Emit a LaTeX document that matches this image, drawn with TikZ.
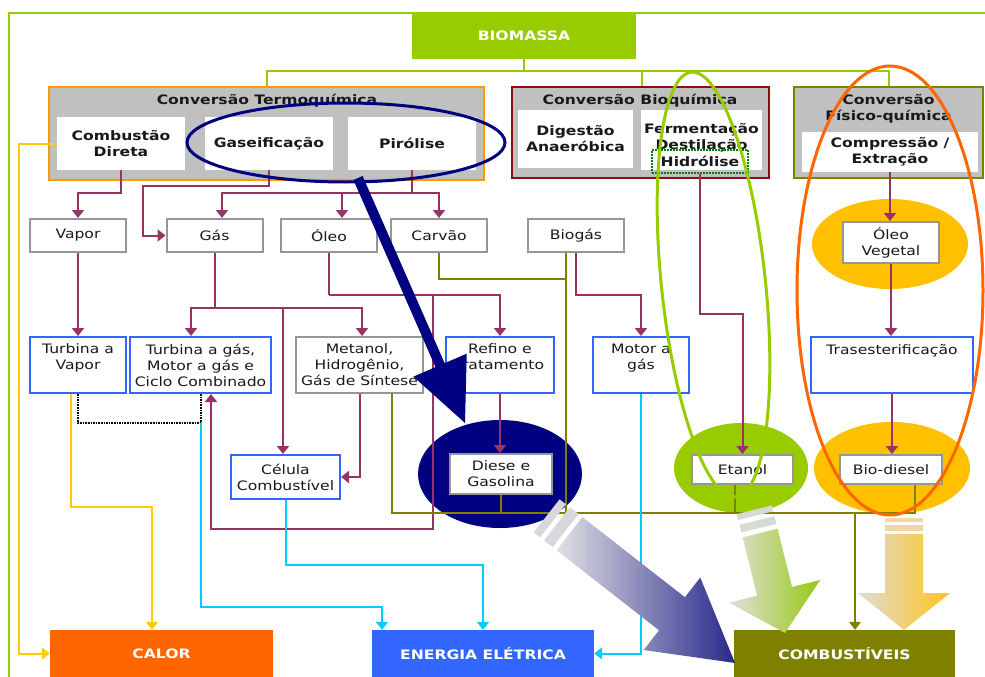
\documentclass[tikz,border=0pt]{standalone}
\usepackage{fontspec}
\setmainfont{DejaVu Sans}[FakeStretch=1.2]
\usepackage{tikz}
\usetikzlibrary{arrows.meta,calc,positioning}
\definecolor{verdebio}{RGB}{153,204,0}
\definecolor{laranja}{RGB}{255,153,0}
\definecolor{laranjaforte}{RGB}{255,102,0}
\definecolor{vinho}{RGB}{140,15,15}
\definecolor{oliva}{RGB}{128,128,0}
\definecolor{roxo}{RGB}{153,51,102}
\definecolor{cinzaborda}{RGB}{150,150,150}
\definecolor{cinzafundo}{RGB}{192,192,192}
\definecolor{azulborda}{RGB}{51,102,255}
\definecolor{azulforte}{RGB}{51,102,255}
\definecolor{amarelo}{RGB}{255,204,0}
\definecolor{ouro}{RGB}{255,192,0}
\definecolor{ciano}{RGB}{0,204,255}
\definecolor{marinho}{RGB}{0,0,128}
\definecolor{verdeescuro}{RGB}{0,128,0}
\definecolor{texto}{RGB}{25,25,25}
\newcommand{\fonte}{\fontsize{13}{16}\selectfont}
% seta larga: ponta, angulo para tras, comprimento e meia largura da ponta, meia largura da haste, fim da haste
\newcommand{\setabloco}[7]{%
  \shade[#7] (#1) -- ($(#1)+(#2:#3)+(#2+90:#4)$) -- ($(#1)+(#2:#3)+(#2+90:#5)$)
    -- ($(#1)+(#2:#6)+(#2+90:#5)$) -- ($(#1)+(#2:#6)+(#2-90:#5)$)
    -- ($(#1)+(#2:#3)+(#2-90:#5)$) -- ($(#1)+(#2:#3)+(#2-90:#4)$) -- cycle;}
\newcommand{\faixabloco}[6]{%
  \fill[#6] ($(#1)+(#2:#3)+(#2+90:#5)$) -- ($(#1)+(#2:#4)+(#2+90:#5)$)
    -- ($(#1)+(#2:#4)+(#2-90:#5)$) -- ($(#1)+(#2:#3)+(#2-90:#5)$) -- cycle;}

\begin{document}
\begin{tikzpicture}[x=1pt,y=-1pt,>={Triangle[length=8pt,width=12pt]},
  tam/.style 2 args={minimum width=#1pt,minimum height=#2pt},
  grupo/.style={fill=cinzafundo,line width=2.5pt,inner sep=0pt},
  titulo/.style={font=\fonte\bfseries,text=texto,align=center,inner sep=0pt},
  cabec/.style={fill=white,font=\fonte\bfseries,text=texto,align=center,inner sep=0pt},
  caixa/.style={draw=cinzaborda,fill=white,line width=2pt,font=\fonte,text=texto,align=center,inner sep=0pt},
  caixazul/.style={caixa,draw=azulborda},
  saida/.style={font=\fonte\bfseries,text=white,inner sep=0pt},
  linharoxa/.style={draw=roxo,line width=2pt},
  setaroxa/.style={linharoxa,->},
  oliv/.style={draw=oliva,line width=1.6pt},
  setaamarela/.style={draw=amarelo,line width=2pt,->},
  setaciano/.style={draw=ciano,line width=2pt,->}]
\useasboundingbox (0,0) rectangle (985,677);
% moldura e manchas de fundo
\draw[verdebio,line width=2pt] (9,677) |- (985,13);
\fill[marinho] (500,474) ellipse [x radius=82,y radius=54];
\fill[verdebio] (741,468) ellipse [x radius=67,y radius=45];
\fill[ouro] (892,468) ellipse [x radius=78,y radius=46];
\fill[ouro] (890,244) ellipse [x radius=78,y radius=45];

\node[saida,fill=verdebio,tam={224}{46}] (biomassa) at (524,36) {BIOMASSA};

\node[grupo,draw=laranja,tam={435}{93}] (termo) at (266.5,133.5) {};
\node[titulo] at (267,101) {Conversão Termoquímica};
\node[cabec,tam={128}{53}] (comb) at (121,143.5) {Combustão\\Direta};
\node[cabec,tam={128}{53}] (gase) at (269,143.5) {Gaseificação};
\node[cabec,tam={128}{53}] (piro) at (412,143.5) {Pirólise};

\node[grupo,draw=vinho,tam={257}{91}] (bioq) at (640.5,132.5) {};
\node[titulo] at (640,101) {Conversão Bioquímica};
\node[cabec,tam={115}{58}] (dige) at (575.5,139) {Digestão\\Anaeróbica};
\node[cabec,tam={121}{60}] (ferm) at (701.5,140) {};
\node[titulo] at (701.5,137.5) {Fermentação\\Destilação};
\node[titulo,draw=verdeescuro,densely dotted,line width=2pt,tam={96}{23}] (hidrol) at (700,161.5) {Hidrólise};

\node[grupo,draw=oliva,tam={189}{91}] (fisico) at (888.5,132.5) {};
\node[titulo] at (888.5,109) {Conversão\\Físico-química};
\node[cabec,tam={176}{40}] (compr) at (890,152) {Compressão /\\Extração};

\node[caixa,tam={96}{33}] (vapor) at (78,235.5) {Vapor};
\node[caixa,tam={96}{33}] (gas) at (214.5,235.5) {Gás};
\node[caixa,tam={96}{33}] (oleo) at (329,235.5) {Óleo};
\node[caixa,tam={96}{33}] (carvao) at (439,235.5) {Carvão};
\node[caixa,tam={96}{33}] (biogas) at (576,235.5) {Biogás};
\node[caixa,tam={96}{41}] (olveg) at (891,242.5) {Óleo\\Vegetal};

\node[caixazul,tam={96}{56}] (turbvapor) at (78,365) {Turbina a\\Vapor\\\mbox{}};
\node[caixazul,tam={141}{56}] (turbgas) at (200.5,365) {Turbina a gás,\\Motor a gás e\\Ciclo Combinado};
\node[caixa,tam={127}{56}] (metanol) at (359.5,365) {Metanol,\\Hidrogênio,\\Gás de Síntese};
\node[caixazul,tam={108}{56}] (refino) at (500,365) {Refino e\\tratamento\\\mbox{}};
\node[caixazul,tam={96}{56}] (motor) at (641,365) {Motor a\\gás\\\mbox{}};
\node[caixazul,tam={162}{56}] (trans) at (892,365) {Trasesterificação\\\mbox{}\\\mbox{}};

\node[caixazul,tam={109}{44}] (celula) at (285.5,477) {Célula\\Combustível};
\node[caixa,tam={102}{40}] (diese) at (501,474) {Diese e\\Gasolina};
\node[caixa,tam={101}{29}] (etanol) at (742.5,469.5) {Etanol};
\node[caixa,tam={102}{29}] (biodiesel) at (891,469.5) {Bio-diesel};

\node[saida,fill=laranjaforte,tam={223}{47}] (calor) at (161.5,653.5) {CALOR};
\node[saida,fill=azulforte,tam={222}{47}] (energia) at (483,653.5) {ENERGIA ELÉTRICA};
\node[saida,fill=oliva,tam={221}{47}] (combust) at (844.5,653.5) {COMBUSTÍVEIS};

% ramos da biomassa
\draw[verdebio,line width=2pt] (biomassa.south) -- ++(0,13);
\draw[verdebio,line width=2pt] (termo.north) -- ++(0,-15) -| (fisico.north);
\draw[verdebio,line width=2pt] ([xshift=1.5pt]bioq.north) -- ++(0,-15);

% rotas de conversao
\draw[setaroxa] (comb.south) -- ++(0,23) -| (vapor.north);
\draw[setaroxa] (gase.south) -- ++(0,16) -| ($(gas.west)+(-23,0)$) -- (gas.west);
\draw[linharoxa] (piro.south) -- ++(0,23) coordinate (piro1);
\draw[setaroxa] (piro1) -| ([xshift=7.5pt]gas.north);
\draw[setaroxa] (piro1) -| ([xshift=13pt]oleo.north);
\draw[setaroxa] (piro1) -| (carvao.north);
\draw[setaroxa] (vapor) -- (turbvapor);
\draw[linharoxa] (gas.south) -- ++(0,55) coordinate (gas1);
\draw[setaroxa] (gas1) -| ([xshift=-9.5pt]turbgas.north);
\draw[setaroxa] (gas1) -| ([xshift=2.5pt]metanol.north);
\draw[setaroxa] (gas1) -| ([xshift=-2.5pt]celula.north);
\draw[linharoxa] (oleo.south) -- ++(0,42) coordinate (oleo1);
\draw[setaroxa] (oleo1) -| (refino.north);
\draw[setaroxa] (oleo1) -| ($(oleo1)+(104,234)$) -| ([xshift=10.5pt]turbgas.south);
\draw[setaroxa] (metanol.south) |- (celula.east);
\draw[setaroxa] (refino.south) -- (refino.south |- diese.north);
\draw[setaroxa] (biogas.south) -- ++(0,42) -| (motor.north);
\draw[setaroxa] (hidrol.south) -- ++(0,140) -| (etanol.north);
\draw[setaroxa] (compr.south) -- (compr.south |- olveg.north);
\draw[setaroxa] (olveg.south) -- (olveg.south |- trans.north);
\draw[setaroxa] (trans.south) -- (trans.south |- biodiesel.north);

% combustiveis
\coordinate (col1) at (392,513);
\coordinate (col2) at (915,513);
\coordinate (col3) at (855,513);
\draw[oliv] (carvao.south) -- ++(0,26) -| ([xshift=-10pt]biogas.south);
\draw[oliv] ([xshift=-10pt]biogas.south) -- ++(0,261);
\draw[oliv] ([xshift=32.5pt]metanol.south) -- (col1) -- (col2) -- ([xshift=24pt]biodiesel.south);
\draw[oliv] ([xshift=-7.5pt]etanol.south) -- ++(0,29);
\draw[oliv] (diese.south) -- ++(0,19);
\draw[oliv,->] (col3) -- (col3 |- combust.north);

% calor e energia eletrica
\draw[setaamarela] (comb.west) -- ++(-38,0) |- (calor.west);
\draw[setaamarela] ([xshift=-7pt]turbvapor.south) -- ++(0,113) -| ([xshift=-9.5pt]calor.north);
\draw[black,line width=1.6pt,densely dotted] (turbvapor.south) -- ++(0,29) -| ([xshift=0.5pt]turbgas.south);
\draw[setaciano] ($(turbgas.south)+(0.5,29)$) -- ++(0,184) -| ([xshift=-101pt]energia.north);
\draw[setaciano] (celula.south) -- ++(0,65) -| (energia.north);
\draw[setaciano] (motor.south) |- (energia.east);

% destaques
\draw[marinho,line width=3pt] (346,142.5) ellipse [x radius=159,y radius=39.5];
\draw[verdebio,line width=3pt,rotate around={6:(713.5,284.5)}] (713.5,284.5) ellipse [x radius=52,y radius=213.5];
\draw[laranjaforte,line width=3pt] (890,290.5) ellipse [x radius=93,y radius=224.5];
\coordinate (navyA) at (358,178);
\coordinate (navyB) at (465,423);
\draw[marinho,line width=10pt] (navyA) -- ($(navyB)+(246.7:60)$);
\fill[marinho] (navyB) -- ($(navyB)+(246.7:63)+(156.7:29)$) -- ($(navyB)+(246.7:63)+(336.7:29)$) -- cycle;

\coordinate (pontaD) at (735,663);
\setabloco{pontaD}{218}{80}{46}{21}{210}{left color={rgb,255:red,225;green,225;blue,228},right color={rgb,255:red,40;green,40;blue,140}}
\faixabloco{pontaD}{218}{215}{226}{21}{fill={rgb,255:red,215;green,215;blue,220}}
\faixabloco{pontaD}{218}{231}{239}{21}{fill={rgb,255:red,215;green,215;blue,220}}
\coordinate (pontaE) at (785,633);
\setabloco{pontaE}{256}{43}{47}{18}{103}{left color={rgb,255:red,225;green,225;blue,220},right color={rgb,255:red,150;green,200;blue,20}}
\faixabloco{pontaE}{256}{108}{116}{18}{fill={rgb,255:red,215;green,220;blue,210}}
\faixabloco{pontaE}{256}{121}{127}{18}{fill={rgb,255:red,215;green,220;blue,210}}
\coordinate (pontaB) at (904,630);
\setabloco{pontaB}{270}{37}{46}{19}{96}{left color={rgb,255:red,225;green,220;blue,210},right color={rgb,255:red,255;green,195;blue,30}}
\faixabloco{pontaB}{270}{99}{105}{19}{fill={rgb,255:red,240;green,215;blue,165}}
\faixabloco{pontaB}{270}{108}{112}{19}{fill={rgb,255:red,240;green,215;blue,165}}
\end{tikzpicture}
\end{document}
